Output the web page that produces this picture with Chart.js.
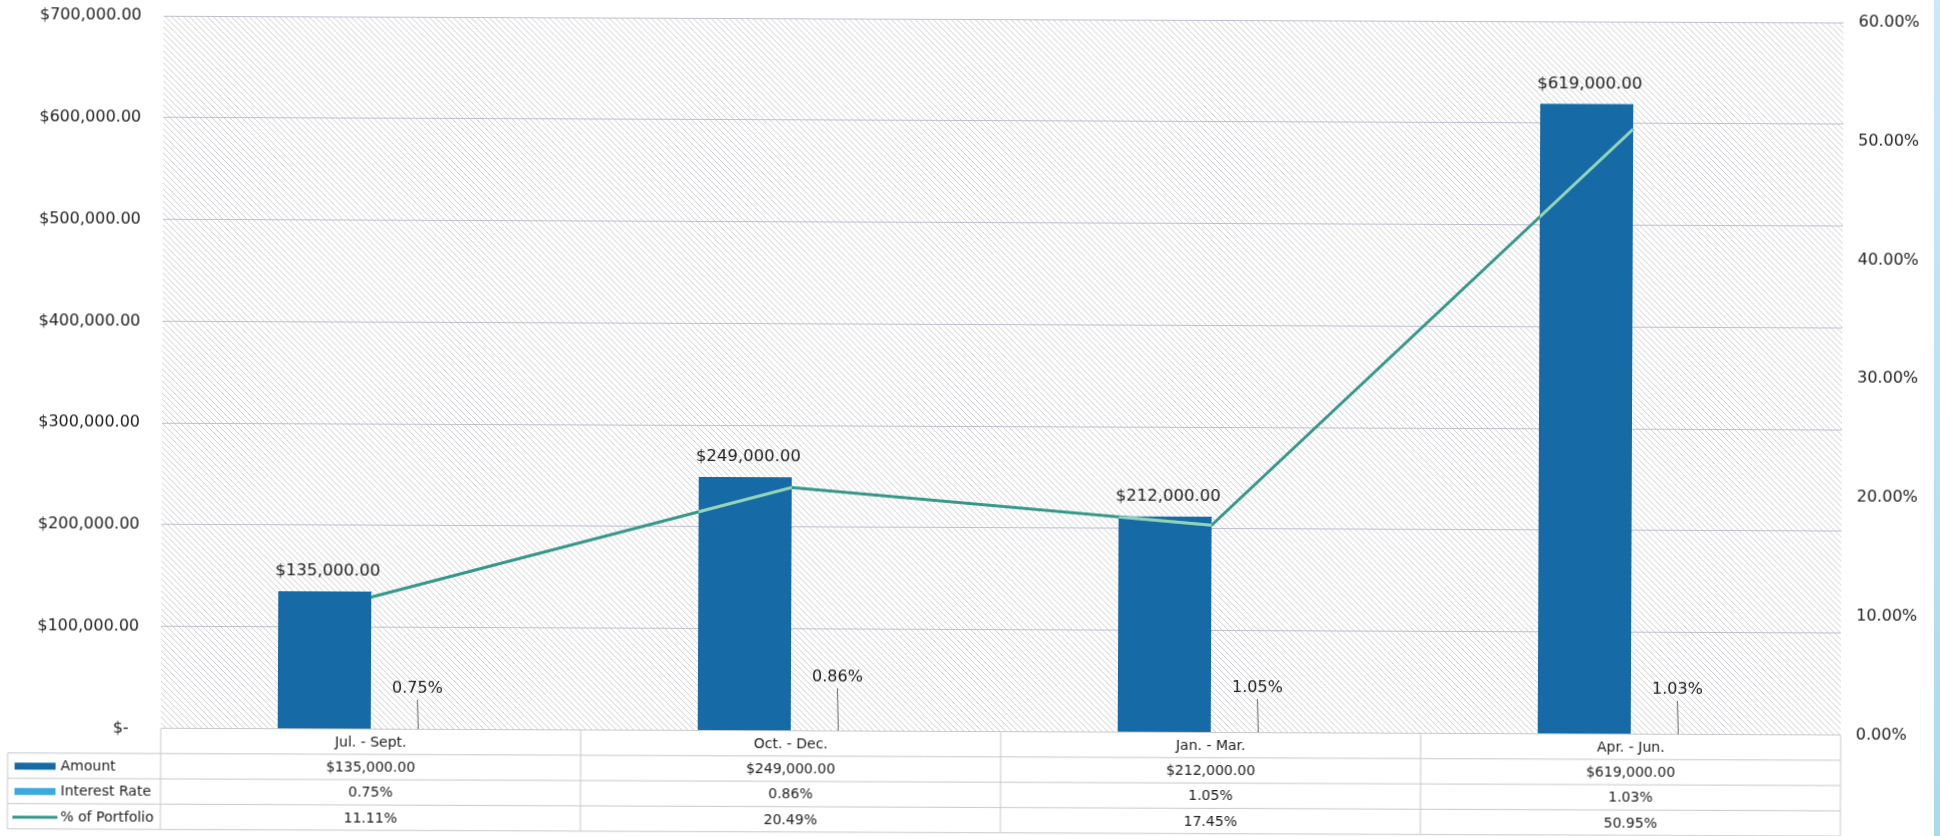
<!DOCTYPE html>
<html>
<head>
<meta charset="utf-8">
<script src="https://cdn.jsdelivr.net/npm/chart.js@4.4.1/dist/chart.umd.min.js"></script>
<style>
  html, body { margin: 0; padding: 0; background: #fff; overflow: hidden; }
  #wrap { position: relative; width: 1940px; height: 836px; }
  #chart-amounts { transform: rotate(0.23deg); transform-origin: 50% 50%; }
  #edge { position: absolute; right: 0; top: 0; width: 6px; height: 836px; background: linear-gradient(#cbe9f8, #a9daf2); }
</style>
</head>
<body>
<div id="wrap">
  <canvas id="chart-amounts" width="1940" height="836"></canvas>
  <div id="edge"></div>
</div>
<script>
const categories = ['Jul. - Sept.', 'Oct. - Dec.', 'Jan. - Mar.', 'Apr. - Jun.'];
const amounts = [135000, 249000, 212000, 619000];
const interestRates = [0.75, 0.86, 1.05, 1.03];
const portfolioShare = [11.11, 20.49, 17.45, 50.95];

const FONT = '"DejaVu Sans", sans-serif';
const BLUE = '#166aa5';
const LIGHT_BLUE = '#3fa8df';
const TEAL = '#35978a';

const fmtMoney = v => '$' + v.toLocaleString('en-US', { minimumFractionDigits: 2, maximumFractionDigits: 2 });
const fmtPct = v => v.toFixed(2) + '%';

// diagonal hatch for the plot background
function makeHatch() {
    const c = document.createElement('canvas');
    c.width = 6; c.height = 6;
    const g = c.getContext('2d');
    g.strokeStyle = 'rgba(120,120,130,0.36)';
    g.lineWidth = 1;
    g.beginPath();
    g.moveTo(-1, -1); g.lineTo(7, 7);
    g.moveTo(-1, 5); g.lineTo(1, 7);
    g.moveTo(5, -1); g.lineTo(7, 1);
    g.stroke();
    return c;
}

const hatchBackground = {
    id: 'hatchBackground',
    beforeDraw(chart) {
        const { ctx, chartArea: a } = chart;
        ctx.save();
        ctx.fillStyle = ctx.createPattern(makeHatch(), 'repeat');
        ctx.fillRect(a.left, a.top, a.right - a.left, a.bottom - a.top);
        ctx.restore();
    }
};

const valueLabels = {
    id: 'valueLabels',
    afterDatasetsDraw(chart, args, opts) {
        const { ctx } = chart;
        const lineMeta = chart.getDatasetMeta(0);
        const amountMeta = chart.getDatasetMeta(1);
        const rateMeta = chart.getDatasetMeta(2);

        // the line shows lighter where it runs across a bar
        amountMeta.data.forEach(bar => {
            const w = bar.width;
            ctx.save();
            ctx.beginPath();
            ctx.rect(bar.x - w / 2, bar.y, w, bar.base - bar.y);
            ctx.clip();
            ctx.beginPath();
            lineMeta.data.forEach((p, i) => i ? ctx.lineTo(p.x, p.y) : ctx.moveTo(p.x, p.y));
            ctx.strokeStyle = '#93d5bb';
            ctx.lineWidth = 3;
            ctx.stroke();
            ctx.restore();
        });

        ctx.save();
        ctx.fillStyle = '#222';
        ctx.textAlign = 'center';
        ctx.textBaseline = 'middle';
        ctx.font = '16.5px ' + FONT;
        amountMeta.data.forEach((bar, i) => {
            ctx.fillText(fmtMoney(amounts[i]), bar.x + 3, bar.y - 20);
        });
        ctx.font = '16px ' + FONT;
        rateMeta.data.forEach((bar, i) => {
            const ly = bar.base - opts.lift[i];
            ctx.fillText(fmtPct(interestRates[i]), bar.x, ly);
            ctx.beginPath();
            ctx.moveTo(bar.x, ly + 11);
            ctx.lineTo(bar.x + 1, bar.base);
            ctx.strokeStyle = '#666';
            ctx.lineWidth = 1;
            ctx.stroke();
        });
        ctx.restore();
    }
};

// data table under the plot, one column per category
const dataTable = {
    id: 'dataTable',
    afterDraw(chart) {
        const { ctx, chartArea: a, scales } = chart;
        const x = scales.x;
        const colW = (a.right - a.left) / categories.length;
        const rowH = 25.3;
        const top = a.bottom;
        const labelLeft = 9;
        const rows = [
            { name: 'Amount', values: amounts.map(fmtMoney), swatch: 'bar', color: BLUE },
            { name: 'Interest Rate', values: interestRates.map(fmtPct), swatch: 'bar', color: LIGHT_BLUE },
            { name: '% of Portfolio', values: portfolioShare.map(fmtPct), swatch: 'line', color: TEAL }
        ];
        const bottom = top + rowH * (rows.length + 1);

        ctx.save();
        ctx.strokeStyle = '#c9c9cc';
        ctx.lineWidth = 1;
        ctx.beginPath();
        ctx.moveTo(a.left, top); ctx.lineTo(a.right, top);
        for (let r = 1; r <= rows.length + 1; r++) {
            ctx.moveTo(labelLeft, top + r * rowH); ctx.lineTo(a.right, top + r * rowH);
        }
        ctx.moveTo(labelLeft, top + rowH); ctx.lineTo(labelLeft, bottom);
        for (let c = 0; c <= categories.length; c++) {
            const cx = a.left + c * colW;
            ctx.moveTo(cx, top); ctx.lineTo(cx, bottom);
        }
        ctx.stroke();

        ctx.fillStyle = '#222';
        ctx.font = '14px ' + FONT;
        ctx.textBaseline = 'middle';
        ctx.textAlign = 'center';
        categories.forEach((c, i) => ctx.fillText(c, x.getPixelForValue(i), top + rowH / 2 + 1));
        rows.forEach((row, r) => {
            const cy = top + (r + 1.5) * rowH + 1;
            ctx.textAlign = 'center';
            row.values.forEach((v, i) => ctx.fillText(v, x.getPixelForValue(i), cy));
            ctx.textAlign = 'left';
            ctx.fillText(row.name, 62, cy);
            if (row.swatch === 'bar') {
                ctx.fillStyle = row.color;
                ctx.fillRect(16, cy - 4, 41, 7);
                ctx.fillStyle = '#222';
            } else {
                ctx.beginPath();
                ctx.moveTo(14, cy); ctx.lineTo(59, cy);
                ctx.strokeStyle = row.color;
                ctx.lineWidth = 3;
                ctx.stroke();
            }
        });
        ctx.restore();
    }
};

new Chart(document.getElementById('chart-amounts'), {
    type: 'bar',
    data: {
        labels: categories,
        datasets: [
            { type: 'line', label: '% of Portfolio', data: portfolioShare, yAxisID: 'y1', borderColor: TEAL, borderWidth: 3, pointRadius: 0, tension: 0, order: 0 },
            { label: 'Amount', data: amounts, yAxisID: 'y', backgroundColor: BLUE, order: 1 },
            { label: 'Interest Rate', data: interestRates, yAxisID: 'y', backgroundColor: LIGHT_BLUE, order: 1 }
        ]
    },
    options: {
        responsive: false,
        animation: false,
        categoryPercentage: 0.443,
        barPercentage: 1,
        layout: { padding: { top: 19, bottom: 104.5, left: 0, right: 0 } },
        plugins: {
            legend: { display: false },
            tooltip: { enabled: false },
            valueLabels: { lift: [40, 53, 44, 44] }
        },
        scales: {
            x: { display: false },
            y: {
                position: 'left',
                min: 0, max: 700000,
                afterFit: s => { s.width = 162; },
                // invisible tick marks keep the label gap without extra top padding
                grid: { color: 'rgba(185,185,205,0.9)', tickColor: 'transparent', tickLength: 13 },
                border: { display: false },
                ticks: {
                    stepSize: 100000, padding: 9, color: '#222',
                    font: { family: FONT, size: 16 },
                    callback: v => v === 0 ? '$-  ' : fmtMoney(v)
                }
            },
            y1: {
                position: 'right',
                min: 0, max: 60,
                afterFit: s => { s.width = 98; },
                grid: { display: false, tickLength: 8 },
                border: { display: false },
                ticks: {
                    stepSize: 10, padding: 7, color: '#222',
                    font: { family: FONT, size: 16 },
                    callback: v => fmtPct(v)
                }
            }
        }
    },
    plugins: [hatchBackground, valueLabels, dataTable]
});
</script>
</body>
</html>
